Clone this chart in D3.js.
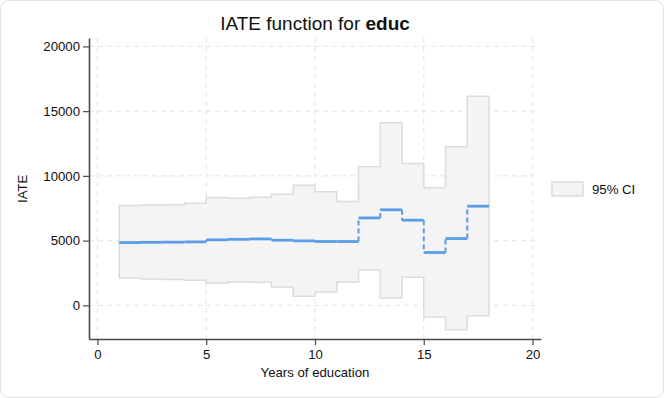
<!DOCTYPE html>
<html>
<head>
<meta charset="utf-8">
<script src="https://cdn.jsdelivr.net/npm/d3@7"></script>
<style>
  body { margin: 0; background: #fff; }
  text { font-family: "Liberation Sans", Helvetica, Arial, sans-serif; }
</style>
</head>
<body>
<div id="chart"></div>
<script>
// segment start year (each step spans [year, year + 1])
var years = [1, 2, 3, 4, 5, 6, 7, 8, 9, 10, 11, 12, 13, 14, 15, 16, 17];
var iate = [4850, 4870, 4880, 4900, 5060, 5100, 5130, 5030, 4980, 4930, 4930, 6750, 7380, 6580, 4080, 5160, 7660];
var ciUpper = [7710, 7760, 7770, 7890, 8330, 8280, 8350, 8590, 9280, 8770, 8020, 10700, 14100, 10960, 9080, 12250, 16160];
var ciLower = [2120, 2040, 2000, 1930, 1730, 1810, 1780, 1420, 700, 1040, 1810, 2730, 570, 2170, -900, -1880, -800];
var xTicks = [0, 5, 10, 15, 20];
var yTicks = [0, 5000, 10000, 15000, 20000];

var W = 664, H = 398;
var margin = { top: 38, right: 123, bottom: 59, left: 89 },
    width = W - margin.left - margin.right,
    height = H - margin.top - margin.bottom;

var fs = "13.2px";

var svg = d3.select("#chart").append("svg")
    .attr("width", W)
    .attr("height", H);

// outer frame
svg.append("rect")
    .attr("x", 0.5).attr("y", 0.5)
    .attr("width", W - 1).attr("height", H - 1)
    .attr("rx", 8)
    .style("fill", "#fff")
    .style("stroke", "#e2e2e2");

var g = svg.append("g")
    .attr("transform", "translate(" + margin.left + "," + margin.top + ")");

var xScale = d3.scaleLinear().domain([-0.39, 20.39]).range([0, width]);
var yScale = d3.scaleLinear().domain([-2600, 20650]).range([height, 0]);

// grid
g.append("g").selectAll("line")
    .data(xTicks)
    .enter().append("line")
    .attr("x1", d => xScale(d)).attr("x2", d => xScale(d))
    .attr("y1", 0).attr("y2", height)
    .style("stroke", "#e9e9e9").style("stroke-width", 1.3)
    .style("stroke-dasharray", "5,4");

g.append("g").selectAll("line")
    .data(yTicks)
    .enter().append("line")
    .attr("x1", 0).attr("x2", width - 3)
    .attr("y1", d => yScale(d)).attr("y2", d => yScale(d))
    .style("stroke", "#e9e9e9").style("stroke-width", 1.3)
    .style("stroke-dasharray", "5,4");

// step table with closing point
var steps = years.map((d, i) => ({ x: d, y: iate[i], lo: ciLower[i], hi: ciUpper[i] }));
var last = steps[steps.length - 1];
steps.push({ x: last.x + 1, y: last.y, lo: last.lo, hi: last.hi });

var area = d3.area()
    .x(d => xScale(d.x))
    .y0(d => yScale(d.lo))
    .y1(d => yScale(d.hi))
    .curve(d3.curveStepAfter);

g.append("path")
    .datum(steps)
    .attr("d", area)
    .style("fill", "#f4f4f4")
    .style("stroke", "#dcdcdc")
    .style("stroke-width", 1.5);

// IATE line: horizontal runs solid, jumps dashed
var blue = "#5a9de8";
g.append("g").selectAll("line")
    .data(years)
    .enter().append("line")
    .attr("x1", (d, i) => xScale(d))
    .attr("x2", (d, i) => xScale(d + 1))
    .attr("y1", (d, i) => yScale(iate[i]))
    .attr("y2", (d, i) => yScale(iate[i]))
    .style("stroke", blue).style("stroke-width", 2.8);

g.append("g").selectAll("line")
    .data(years.slice(1))
    .enter().append("line")
    .attr("x1", d => xScale(d))
    .attr("x2", d => xScale(d))
    .attr("y1", (d, i) => yScale(iate[i]))
    .attr("y2", (d, i) => yScale(iate[i + 1]))
    .style("stroke", blue).style("stroke-width", 2)
    .style("stroke-dasharray", "5,3");

// axes
var xAxis = g.append("g")
    .attr("transform", "translate(0," + height + ")")
    .call(d3.axisBottom(xScale).tickValues(xTicks).tickSize(6).tickSizeOuter(0));

var yAxis = g.append("g")
    .call(d3.axisLeft(yScale).tickValues(yTicks).tickSize(6).tickSizeOuter(0).tickFormat(d3.format("d")));

[xAxis, yAxis].forEach(function(a) {
    a.select(".domain").style("stroke", "#4a4a4a").style("stroke-width", 1.6);
    a.selectAll(".tick line").style("stroke", "#4a4a4a").style("stroke-width", 1.2);
    a.selectAll(".tick text")
        .style("font-size", fs)
        .style("fill", "#111")
        .style("font-family", "'Liberation Sans', Helvetica, Arial, sans-serif");
});
xAxis.selectAll(".tick text").attr("dy", "0.8em");

// labels
var title = svg.append("text")
    .attr("x", 315).attr("y", 30)
    .attr("text-anchor", "middle")
    .style("font-size", "19px")
    .style("fill", "#111");
title.append("tspan").text("IATE function for ");
title.append("tspan").style("font-weight", "bold").text("educ");

svg.append("text")
    .attr("x", margin.left + xScale(10)).attr("y", 377)
    .attr("text-anchor", "middle")
    .style("font-size", fs)
    .style("fill", "#111")
    .text("Years of education");

svg.append("text")
    .attr("transform", "translate(27," + (margin.top + yScale(9000)) + ") rotate(-90)")
    .attr("text-anchor", "middle")
    .style("font-size", fs)
    .style("fill", "#111")
    .text("IATE");

// legend
var legend = svg.append("g").attr("transform", "translate(552,182)");
legend.append("rect")
    .attr("width", 31).attr("height", 14)
    .style("fill", "#f4f4f4")
    .style("stroke", "#dcdcdc")
    .style("stroke-width", 1.5);
legend.append("text")
    .attr("x", 40).attr("y", 12)
    .style("font-size", fs)
    .style("fill", "#111")
    .text("95% CI");
</script>
</body>
</html>
